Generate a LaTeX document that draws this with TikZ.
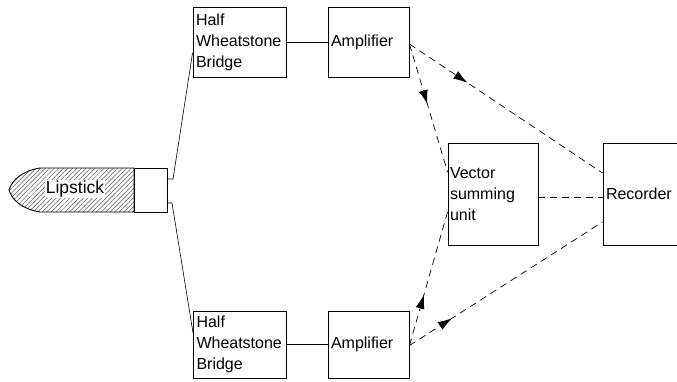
\documentclass[tikz,border=0pt]{standalone}
\usepackage{fontspec}
\setmainfont{Liberation Sans}
\usetikzlibrary{arrows.meta,patterns.meta,decorations.markings}
\begin{document}
\begin{tikzpicture}[x=1pt,y=-1pt,
  every node/.style={font=\fontsize{16}{21}\selectfont},
  unit/.style={draw,line width=0.9pt,inner xsep=3pt,inner ysep=0pt,align=left},
  wire/.style={line width=0.6pt},
  signal/.style={line width=0.7pt,dash pattern=on 7pt off 5pt},
  midarrow/.style={decoration={markings,
      mark=at position #1 with {\arrow{Latex[length=14pt,width=9pt]}}},
      postaction=decorate}]
\useasboundingbox (0,0) rectangle (677,381);

% lipstick body with hatching, and its cap
\path[pattern={Lines[angle=45,distance=3.2pt,line width=0.5pt]},pattern color=black!65,
      draw=black,line width=0.9pt]
  (134,168) -- (40,168) .. controls (22,171) and (12,180) .. (9,190)
  .. controls (12,200) and (22,209) .. (40,212) -- (134,212) -- cycle;
\node[fill=white,inner sep=1pt,font=\fontsize{17.5}{21}\selectfont] (lip) at (75,189) {Lipstick};
\node[draw,line width=0.9pt,minimum width=33pt,minimum height=44pt,inner sep=0pt] (cap) at (150.5,190) {};

% bridges and amplifiers
\node[unit,text width=87pt,minimum height=70pt] (hb1) at (239.5,42) {Half\\Wheatstone\\Bridge};
\node[unit,text width=75pt,minimum height=70pt] (amp1) at (368.5,42) {Amplifier};
\node[unit,text width=87pt,minimum height=67pt] (hb2) at (240,344.5) {Half\\Wheatstone\\Bridge};
\node[unit,text width=75pt,minimum height=67pt] (amp2) at (368.5,344.5) {Amplifier};

% summing unit and recorder
\node[unit,inner xsep=2pt,text width=86pt,minimum height=102pt] (vsu) at (493,194) {Vector\\summing\\unit};
\node[unit,text width=81pt,minimum height=102pt] (rec) at (646.5,194) {Recorder};

% lipstick to bridges
\coordinate (s1) at (173,179);
\coordinate (s2) at (172,203);
\draw[wire] ([yshift=11pt]cap.east) -- (s1) -- ([yshift=-11pt]hb1.west);
\draw[wire] ([yshift=-13pt]cap.east) -- (s2) -- ([yshift=11.5pt]hb2.west);

% bridges to amplifiers
\draw[wire] (hb1) -- (amp1);
\draw[wire] (hb2) -- (amp2);

% signal paths
\draw[signal,midarrow=0.3] ([yshift=-2pt]amp1.east) -- ([yshift=21pt]rec.west);
\draw[signal,midarrow=0.47] ([yshift=-2pt]amp1.east) -- ([yshift=22pt]vsu.west);
\draw[signal,midarrow=0.38] ([yshift=-1pt]amp2.east) -- ([yshift=-18pt]vsu.west);
\draw[signal,midarrow=0.22] ([yshift=-1pt]amp2.east) -- ([yshift=-28pt]rec.west);
\draw[signal] ([yshift=-3pt]vsu.east) -- ([yshift=-3pt]rec.west);
\end{tikzpicture}
\end{document}
